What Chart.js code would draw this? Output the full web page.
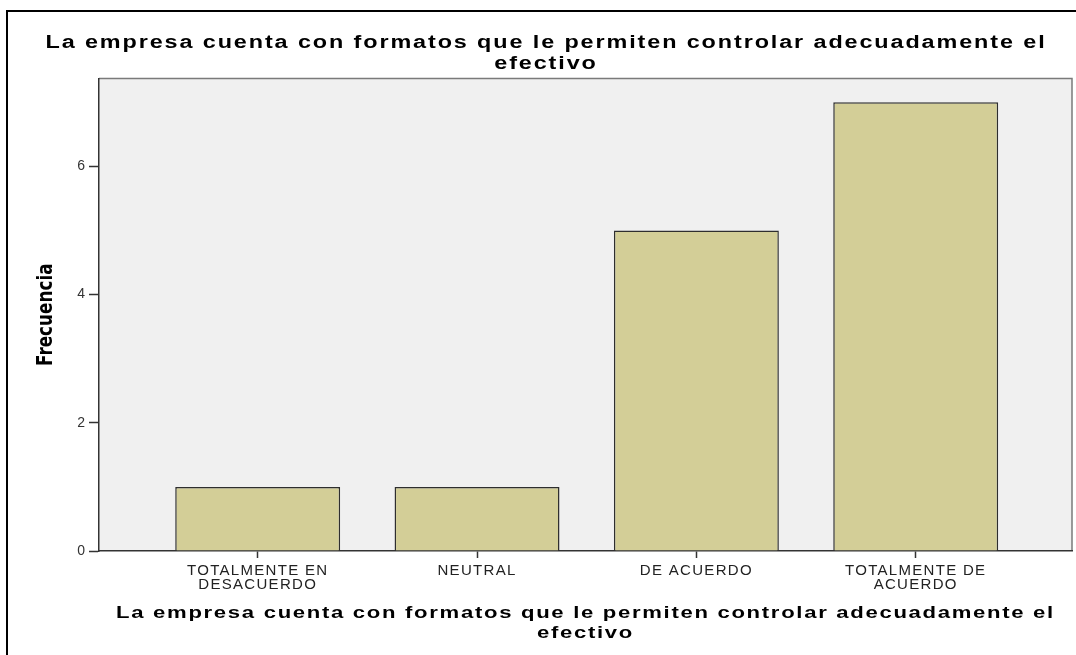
<!DOCTYPE html>
<html>
<head>
<meta charset="utf-8">
<script src="https://cdn.jsdelivr.net/npm/chart.js@4"></script>
<style>
  html, body { margin: 0; padding: 0; background: #fff; overflow: hidden; }
  #wrap { position: relative; width: 1076px; height: 655px; overflow: hidden; }
  #frame { position: absolute; left: 6px; top: 10px; width: 1100px; height: 700px;
           border-left: 2px solid #000; border-top: 2px solid #000; }
  #chart { position: absolute; left: 0; top: 0; }
</style>
</head>
<body>
<div id="wrap">
  <div id="frame"></div>
  <canvas id="chart" width="1076" height="655"></canvas>
</div>
<script>
// chart data
const categories = [['TOTALMENTE EN', 'DESACUERDO'], 'NEUTRAL', 'DE ACUERDO', ['TOTALMENTE DE', 'ACUERDO']];
const frequencies = [1, 1, 5, 7];
const yTicks = [0, 2, 4, 6];
const chartTitle = ['La empresa cuenta con formatos que le permiten controlar adecuadamente el', 'efectivo'];
const xTitle = ['La empresa cuenta con formatos que le permiten controlar adecuadamente el', 'efectivo'];
const yTitle = 'Frecuencia';

const sansFont = "'Liberation Sans', Arial, sans-serif";
const narrowFont = "'Liberation Sans Narrow', 'Arial Narrow', 'DejaVu Sans Condensed', sans-serif";

// wraps a draw method: letter spacing plus an optional stretch around the element's centre
function restyle(obj, method, spacing, sx, sy) {
  if (!obj || obj['_rs_' + method]) return;
  const orig = obj[method];
  obj[method] = function (...args) {
    const ctx = this.ctx;
    const cx = (this.left + this.right) / 2;
    const cy = (this.top + this.bottom) / 2;
    ctx.save();
    ctx.letterSpacing = spacing;
    ctx.translate(cx, cy);
    ctx.scale(sx, sy);
    ctx.translate(-cx, -cy);
    orig.apply(this, args);
    ctx.restore();
  };
  obj['_rs_' + method] = true;
}

const plotBox = {
  id: 'plotBox',
  afterLayout(chart) {
    restyle(chart.titleBlock, 'draw', '1.45px', 1.3, 1);
    restyle(chart.scales.x, 'drawTitle', '1.3px', 1.3, 1);
    restyle(chart.scales.x, 'drawLabels', '1.3px', 1, 1);
    restyle(chart.scales.y, 'drawTitle', '0px', 1, 0.85);
  },
  beforeDraw(chart) {
    const { ctx, chartArea: a } = chart;
    ctx.save();
    ctx.fillStyle = '#f0f0f0';
    ctx.fillRect(a.left, a.top, a.right - a.left, a.bottom - a.top);
    ctx.strokeStyle = '#7a7a7a';
    ctx.lineWidth = 1.5;
    ctx.beginPath();
    ctx.moveTo(a.left, a.top);
    ctx.lineTo(a.right, a.top);
    ctx.lineTo(a.right, a.bottom);
    ctx.stroke();
    ctx.restore();
  }
};

new Chart(document.getElementById('chart'), {
  type: 'bar',
  data: {
    datasets: [{
      label: 'Frecuencia',
      data: frequencies.map((v, i) => ({ x: i, y: v })),
      backgroundColor: '#d3ce97',
      borderColor: '#2e2e2e',
      borderWidth: 1.5,
      categoryPercentage: 1,
      barPercentage: 0.752
    }]
  },
  options: {
    responsive: false,
    animation: false,
    layout: { padding: { left: 20, right: 4, top: 0, bottom: 0 } },
    plugins: {
      legend: { display: false },
      tooltip: { enabled: false },
      title: {
        display: true,
        text: chartTitle,
        color: '#000',
        font: { family: sansFont, size: 18, weight: 'bold', lineHeight: 1.15 },
        padding: { top: 33, bottom: 4 }
      }
    },
    scales: {
      x: {
        type: 'linear',
        min: -0.7235,
        max: 3.7125,
        offset: false,
        afterFit: s => { s.height = 104; },
        grid: { offset: false, drawOnChartArea: false, drawTicks: true, tickLength: 7, tickWidth: 1.5, tickColor: '#333' },
        border: { display: true, color: '#333', width: 1.5 },
        ticks: {
          stepSize: 1,
          includeBounds: false,
          autoSkip: false,
          maxRotation: 0,
          padding: 6,
          color: '#222',
          font: { family: sansFont, size: 15, lineHeight: 0.93 },
          callback: v => categories[v] ?? ''
        },
        title: {
          display: true,
          text: xTitle,
          color: '#000',
          font: { family: sansFont, size: 17, weight: 'bold', lineHeight: 1.15 },
          padding: { top: 0, bottom: 12 }
        }
      },
      y: {
        min: 0,
        max: 7.37,
        afterFit: s => { s.width = 79; },
        grid: { drawOnChartArea: false, drawTicks: true, tickLength: 10, tickWidth: 1.5, tickColor: '#333' },
        border: { display: true, color: '#333', width: 1.5 },
        afterBuildTicks: s => { s.ticks = yTicks.map(v => ({ value: v })); },
        ticks: {
          padding: 4,
          color: '#333',
          font: { family: sansFont, size: 14 }
        },
        title: {
          display: true,
          text: yTitle,
          color: '#000',
          font: { family: narrowFont, size: 22, weight: 'bold', lineHeight: 1.2 },
          padding: { top: 13, bottom: 0 }
        }
      }
    }
  },
  plugins: [plotBox]
});
</script>
</body>
</html>
